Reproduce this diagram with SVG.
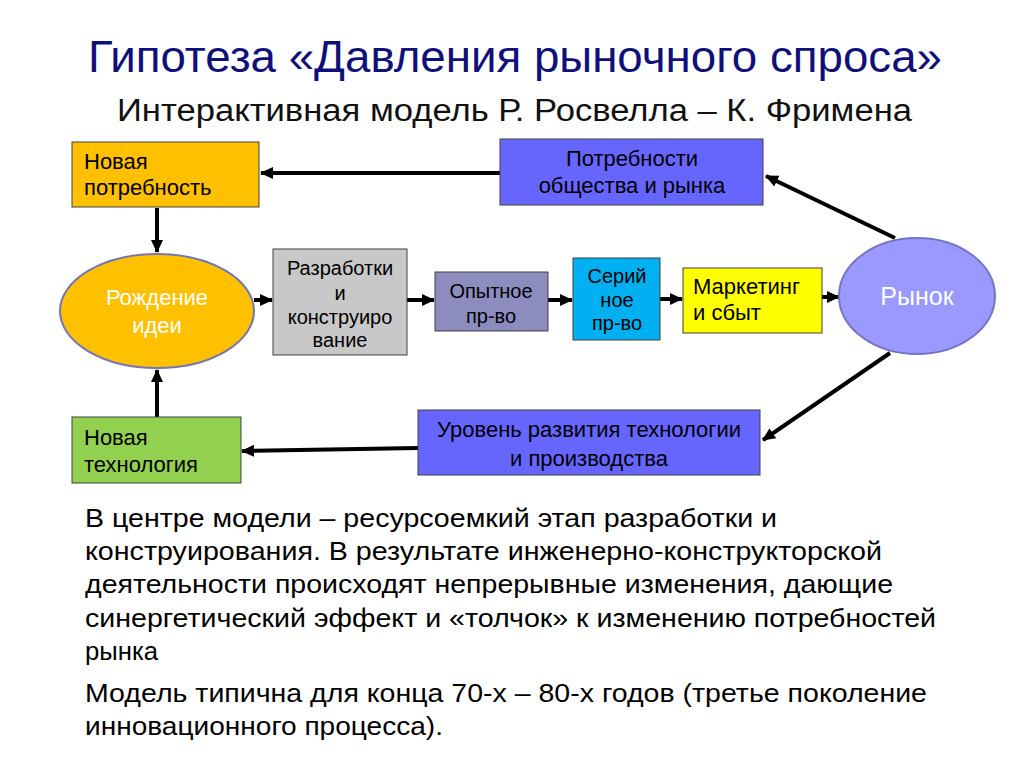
<svg xmlns="http://www.w3.org/2000/svg" width="1024" height="767" viewBox="0 0 1024 767">
<style>
.t{font-family:"Liberation Sans",Arial,sans-serif}
.lbl{font-size:22px;fill:#000}
.nl{font-size:20px;fill:#000}
.wl{font-size:22px;fill:#fff}
.body{font-size:25px;fill:#000}
.c{stroke:#000;stroke-width:4;fill:none;marker-end:url(#ah)}
.box{stroke:#404040;stroke-width:1}
</style>
<defs>
<marker id="ah" markerUnits="userSpaceOnUse" markerWidth="14" markerHeight="14" refX="12" refY="7" orient="auto">
<path d="M0,1 L13,7 L0,13 z" fill="#000"/>
</marker>
</defs>
<rect width="1024" height="767" fill="#fff"/>
<text class="t" x="88" y="72" font-size="44" fill="#10107a" textLength="854" lengthAdjust="spacingAndGlyphs">Гипотеза «Давления рыночного спроса»</text>
<text class="t" x="117" y="121" font-size="31" fill="#111" textLength="795" lengthAdjust="spacingAndGlyphs">Интерактивная модель Р. Росвелла – К. Фримена</text>

<g id="connectors">
<path class="c" d="M500,173 L261,173"/>
<path class="c" d="M895,238 L766,176"/>
<path class="c" d="M157,208 L157,252"/>
<path class="c" d="M157,417 L157,370"/>
<path class="c" d="M254,300 L272,300"/>
<path class="c" d="M407,300 L434,300"/>
<path class="c" d="M548,300 L572,300"/>
<path class="c" d="M660,299 L682,299"/>
<path class="c" d="M822,297 L839,297"/>
<path class="c" d="M890,353 L763,440"/>
<path class="c" d="M418,448 L242,451"/>
</g>

<g id="node-new-need">
<rect class="box" x="72" y="142" width="187" height="65" fill="#FFC000"/>
<text class="t lbl" x="84" y="169">Новая</text>
<text class="t lbl" x="84" y="195">потребность</text>
</g>
<g id="node-society-needs">
<rect class="box" x="500" y="139" width="263" height="66" fill="#6666FF"/>
<text class="t lbl" x="632" y="166" text-anchor="middle">Потребности</text>
<text class="t lbl" x="632" y="193" text-anchor="middle">общества и рынка</text>
</g>
<g id="node-idea">
<ellipse cx="157" cy="311" rx="97" ry="57" fill="#FFC000" stroke="#7474B8" stroke-width="2"/>
<text class="t wl" x="157" y="305" text-anchor="middle">Рождение</text>
<text class="t wl" x="157" y="333" text-anchor="middle">идеи</text>
</g>
<g id="node-rnd">
<rect class="box" x="273" y="249" width="134" height="106" fill="#C8C8C8" stroke="#777"/>
<text class="t nl" x="340" y="275" text-anchor="middle">Разработки</text>
<text class="t nl" x="340" y="300" text-anchor="middle">и</text>
<text class="t nl" x="340" y="324" text-anchor="middle">конструиро</text>
<text class="t nl" x="340" y="347" text-anchor="middle">вание</text>
</g>
<g id="node-pilot">
<rect class="box" x="435" y="272" width="113" height="59" fill="#8C8CBF"/>
<text class="t nl" x="491" y="298" text-anchor="middle">Опытное</text>
<text class="t nl" x="491" y="323" text-anchor="middle">пр-во</text>
</g>
<g id="node-serial">
<rect class="box" x="573" y="258" width="87" height="82" fill="#00B0F0"/>
<text class="t nl" x="617" y="283" text-anchor="middle">Серий</text>
<text class="t nl" x="617" y="307" text-anchor="middle">ное</text>
<text class="t nl" x="617" y="330" text-anchor="middle">пр-во</text>
</g>
<g id="node-marketing">
<rect class="box" x="683" y="268" width="139" height="65" fill="#FFFF00"/>
<text class="t lbl" x="693" y="294">Маркетинг</text>
<text class="t lbl" x="693" y="320">и сбыт</text>
</g>
<g id="node-market">
<ellipse cx="917" cy="296" rx="78" ry="58" fill="#9999FF" stroke="#7474C4" stroke-width="2"/>
<text class="t" x="917" y="305" text-anchor="middle" font-size="25" fill="#fff">Рынок</text>
</g>
<g id="node-tech-level">
<rect class="box" x="418" y="410" width="342" height="65" fill="#6666FF"/>
<text class="t lbl" x="589" y="437" text-anchor="middle">Уровень развития технологии</text>
<text class="t lbl" x="589" y="466" text-anchor="middle">и производства</text>
</g>
<g id="node-new-tech">
<rect class="box" x="72" y="417" width="169" height="66" fill="#92D050"/>
<text class="t lbl" x="84" y="445">Новая</text>
<text class="t lbl" x="84" y="472">технология</text>
</g>

<g id="body-text">
<text class="t body" x="85" y="527" textLength="692" lengthAdjust="spacingAndGlyphs">В центре модели – ресурсоемкий этап разработки и</text>
<text class="t body" x="85" y="560" textLength="797" lengthAdjust="spacingAndGlyphs">конструирования. В результате инженерно-конструкторской</text>
<text class="t body" x="85" y="593" textLength="808" lengthAdjust="spacingAndGlyphs">деятельности происходят непрерывные изменения, дающие</text>
<text class="t body" x="85" y="627" textLength="851" lengthAdjust="spacingAndGlyphs">синергетический эффект и «толчок» к изменению потребностей</text>
<text class="t body" x="85" y="660" textLength="73" lengthAdjust="spacingAndGlyphs">рынка</text>
<text class="t body" x="85" y="702" textLength="842" lengthAdjust="spacingAndGlyphs">Модель типична для конца 70-х – 80-х годов (третье поколение</text>
<text class="t body" x="85" y="735" textLength="358" lengthAdjust="spacingAndGlyphs">инновационного процесса).</text>
</g>
</svg>
